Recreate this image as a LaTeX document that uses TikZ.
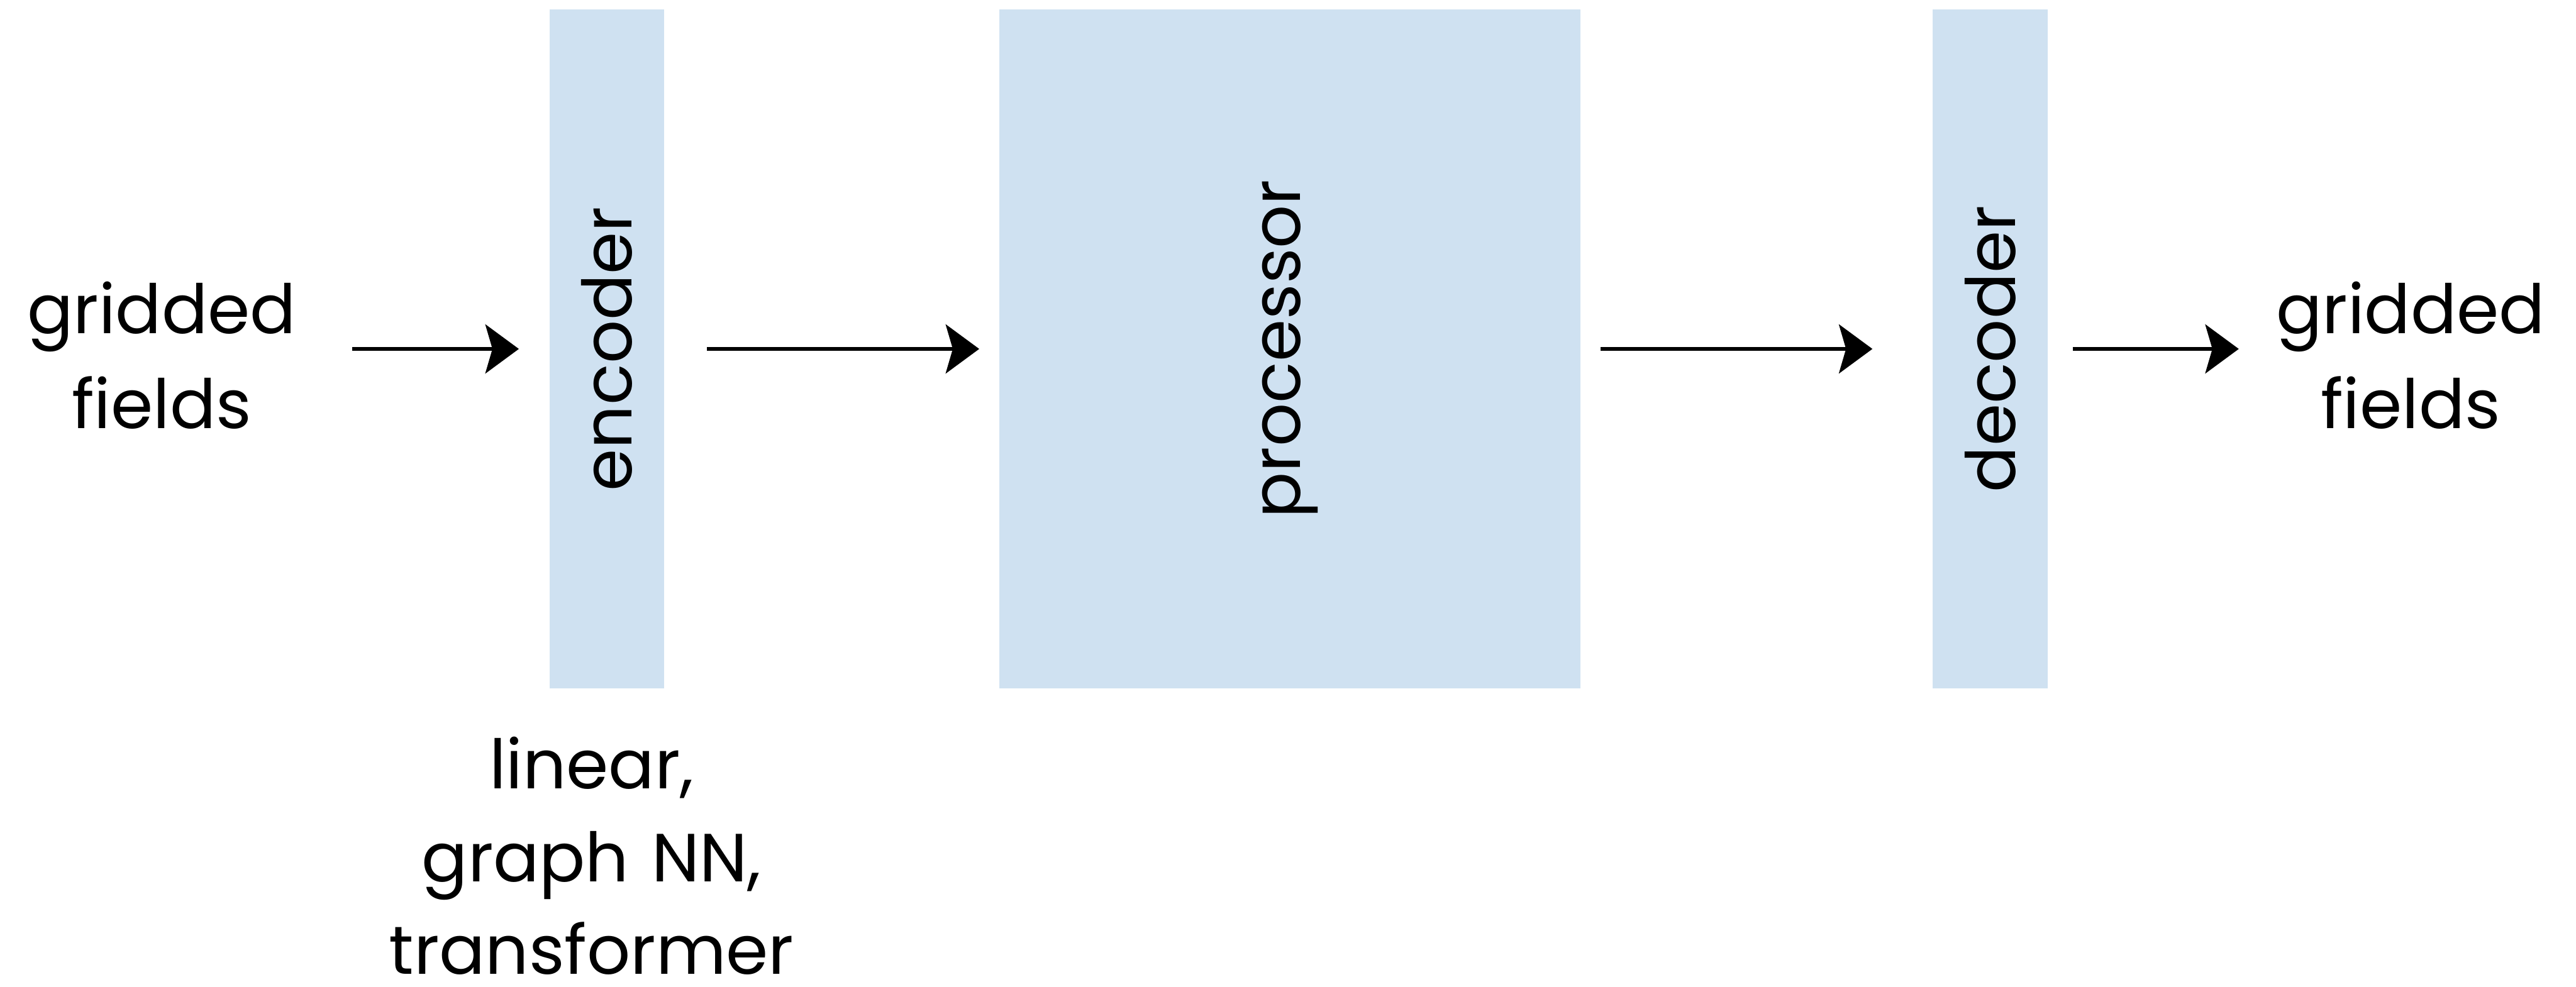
\documentclass[tikz,border=0pt]{standalone}
\usepackage{fontspec}
\setmainfont{Poppins}
\usetikzlibrary{arrows.meta}
\definecolor{stage}{RGB}{207,225,241}
\begin{document}
\begin{tikzpicture}[
  stagebox/.style={fill=stage, draw=none, inner sep=0pt, anchor=south west},
  label/.style={font=\fontsize{55}{76.6}\selectfont, inner sep=0pt, align=center},
  vlabel/.style={font=\fontsize{55}{66}\selectfont, inner sep=0pt, rotate=90},
  flow/.style={line width=0.11cm, -{Stealth[length=0.95cm, width=1.39cm, inset=0.2cm]}}
]
\useasboundingbox (0,0) rectangle (73.08,28);

% pipeline stages
\node[stagebox, minimum width=3.26cm, minimum height=19.26cm] (enc) at (15.58,8.46) {};
\node[stagebox, minimum width=16.49cm, minimum height=19.26cm] (proc) at (28.34,8.46) {};
\node[stagebox, minimum width=3.27cm, minimum height=19.26cm] (dec) at (54.82,8.46) {};

\node[vlabel] at (enc.center) {encoder};
\node[vlabel] at (proc.center) {processor};
\node[vlabel] at (dec.center) {decoder};

% input / output fields
\node[label, text width=7.8cm, anchor=base] (inp) at (4.59,18.53) {gridded\\fields};
\node[label, text width=7.8cm, anchor=base] (outp) at (68.39,18.53) {gridded\\fields};

% encoder choices
\node[label, font=\fontsize{55}{75}\selectfont, text width=12cm, anchor=base] (encopts) at (16.78,5.62) {linear,\\graph NN,\\transformer};

% connectors
\draw[flow, shorten <=1.50cm, shorten >=0.86cm] (inp.east |- enc.center) -- (enc.west |- enc.center);
\draw[flow, shorten <=1.20cm, shorten >=0.56cm] (enc.east |- enc.center) -- (proc.west |- enc.center);
\draw[flow, shorten <=0.56cm, shorten >=1.70cm] (proc.east |- enc.center) -- (dec.west |- enc.center);
\draw[flow, shorten <=0.70cm, shorten >=0.97cm] (dec.east |- enc.center) -- (outp.west |- enc.center);
\end{tikzpicture}
\end{document}
